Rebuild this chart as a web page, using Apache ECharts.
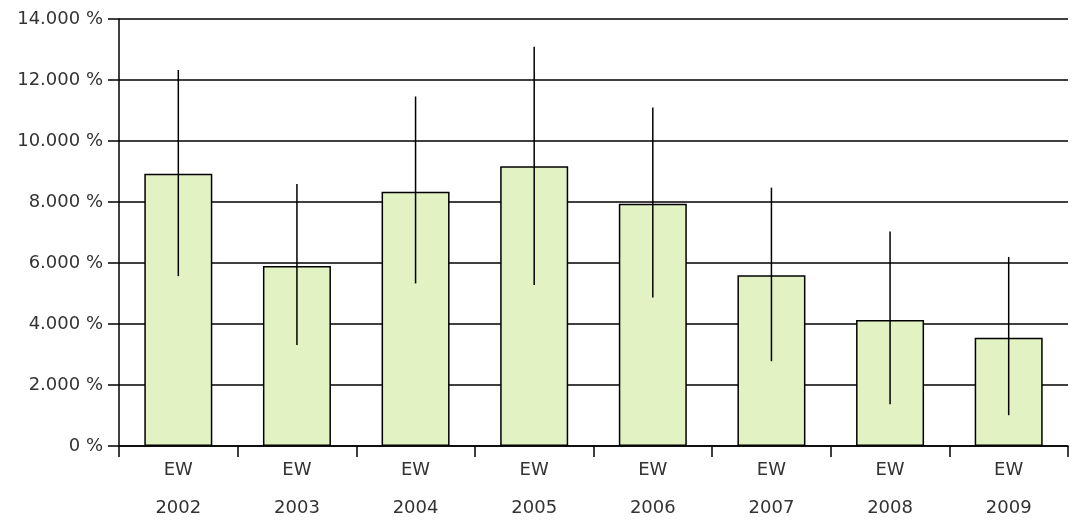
<!DOCTYPE html>
<html>
<head>
<meta charset="utf-8">
<script src="https://cdn.jsdelivr.net/npm/echarts@6/dist/echarts.min.js"></script>
<style>
  html, body { margin: 0; padding: 0; background: #fff; }
  #chart { width: 1076px; height: 520px; }
</style>
</head>
<body>
<div id="chart"></div>
<script>
// categories and values (percent)
const years = ['2002', '2003', '2004', '2005', '2006', '2007', '2008', '2009'];
const groupLabel = 'EW';
const barValues = [8.93, 5.90, 8.34, 9.17, 7.94, 5.60, 4.13, 3.55];
const errLow = [5.57, 3.31, 5.33, 5.28, 4.87, 2.78, 1.37, 1.01];
const errHigh = [12.33, 8.59, 11.46, 13.09, 11.10, 8.47, 7.03, 6.20];
const yTicks = [0, 2, 4, 6, 8, 10, 12, 14];

(function () {
    const chart = echarts.init(document.getElementById('chart'));

    const errData = years.map((y, i) => [i, errLow[i], errHigh[i]]);
    const labelFont = 'Verdana, "DejaVu Sans", sans-serif';

    chart.setOption({
        backgroundColor: '#fff',
        animation: false,
        grid: { left: 119, right: 8, top: 19, bottom: 74, outerBoundsMode: 'none' },
        xAxis: {
            type: 'category',
            data: years,
            axisLine: { lineStyle: { color: '#000', width: 1.5 } },
            axisTick: { show: true, length: 11, lineStyle: { color: '#000', width: 1.5 } },
            axisLabel: {
                margin: 5,
                color: '#333',
                fontFamily: labelFont,
                fontSize: 18,
                lineHeight: 38,
                formatter: v => groupLabel + '\n' + v
            }
        },
        yAxis: {
            type: 'value',
            min: 0,
            max: 14,
            interval: 2,
            axisLine: { show: true, lineStyle: { color: '#000', width: 1.5 } },
            axisTick: { show: true, length: 11, lineStyle: { color: '#000', width: 1.5 } },
            splitLine: { lineStyle: { color: '#000', width: 1.5 } },
            axisLabel: {
                margin: 16,
                color: '#333',
                fontFamily: labelFont,
                fontSize: 18,
                formatter: v => (v === yTicks[0] ? '0' : v.toFixed(3)) + ' %'
            }
        },
        series: [
            {
                type: 'bar',
                data: barValues,
                barWidth: 68,
                itemStyle: { color: '#e2f2c2', borderColor: '#000', borderWidth: 1.5 },
                z: 2
            },
            {
                type: 'custom',
                data: errData,
                z: 5,
                renderItem: function (params, api) {
                    const x = api.value(0);
                    const lo = api.coord([x, api.value(1)]);
                    const hi = api.coord([x, api.value(2)]);
                    return {
                        type: 'line',
                        shape: { x1: lo[0], y1: lo[1], x2: hi[0], y2: hi[1] },
                        style: { stroke: '#000', lineWidth: 1.5 }
                    };
                }
            }
        ]
    });
})();
</script>
</body>
</html>
